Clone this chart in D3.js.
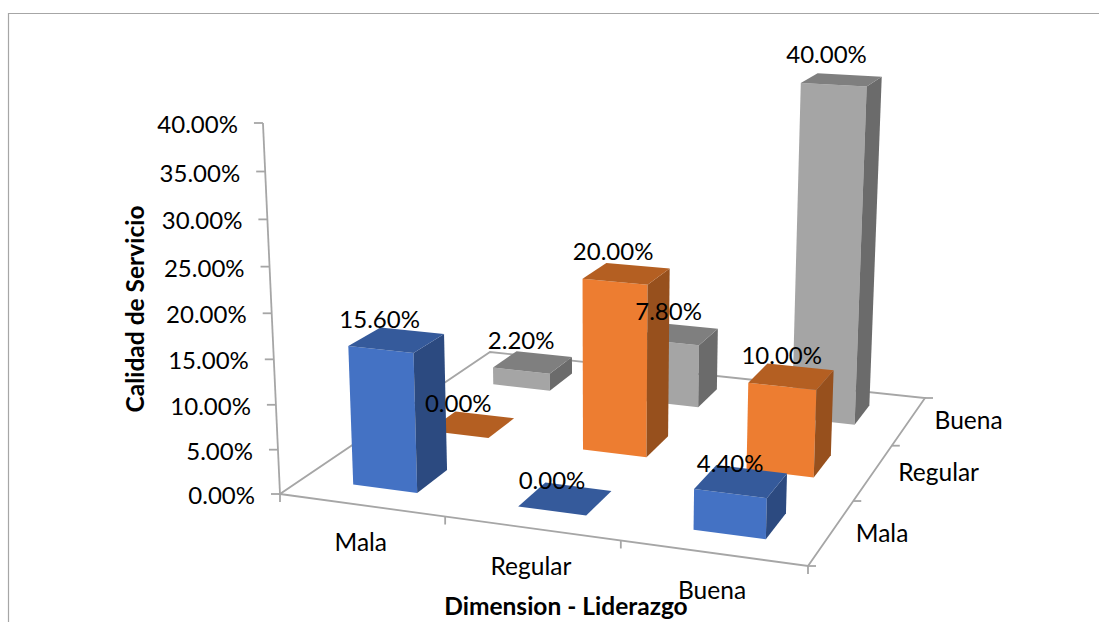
<html>
<head>
    <meta charset="utf-8">
    <script src="https://d3js.org/d3.v7.min.js"></script>
    <style>
        body { margin: 0; background: #fff; }
        text { font-family: Lato, "Noto Sans", sans-serif; fill: #000; }
    </style>
</head>
<body>
    <div id="chart"><svg width="1099" height="622"></svg></div>
    <script>
        var categories = ["Mala", "Regular", "Buena"]
        var seriesNames = ["Mala", "Regular", "Buena"]
        var valuesMala = [15.6, 0, 4.4]
        var valuesRegular = [0, 20, 10]
        var valuesBuena = [2.2, 7.8, 40]
        var seriesValues = [valuesMala, valuesRegular, valuesBuena]
        var yTicks = [0, 5, 10, 15, 20, 25, 30, 35, 40]

        // colours per series: front, side, top
        var faceColors = [
            ["#4472c4", "#2c4a80", "#355a9b"],
            ["#ed7d31", "#97501d", "#b45f22"],
            ["#a5a5a5", "#6b6b6b", "#7f7f7f"]
        ]
        var axisColor = "#a6a6a6"
        var fontSize = 24.5
        var numberSize = 24

        var svg = d3.select("#chart svg")

        // floor corners on screen: front-left, front-right, back-right, back-left
        var floor = [[280, 494], [808, 566], [925, 398], [490, 352]]
        var yAxisTop = [263, 123]
        var verticalVanish = [602, 7500]

        // homography from the unit square to the floor
        var sx = floor[0][0] - floor[1][0] + floor[2][0] - floor[3][0]
        var sy = floor[0][1] - floor[1][1] + floor[2][1] - floor[3][1]
        var dx1 = floor[1][0] - floor[2][0], dx2 = floor[3][0] - floor[2][0]
        var dy1 = floor[1][1] - floor[2][1], dy2 = floor[3][1] - floor[2][1]
        var den = dx1 * dy2 - dx2 * dy1
        var g = (sx * dy2 - dx2 * sy) / den
        var h = (dx1 * sy - sx * dy1) / den
        var a = floor[1][0] - floor[0][0] + g * floor[1][0]
        var b = floor[3][0] - floor[0][0] + h * floor[3][0]
        var d = floor[1][1] - floor[0][1] + g * floor[1][1]
        var e = floor[3][1] - floor[0][1] + h * floor[3][1]
        var k = (yAxisTop[1] - floor[0][1]) / (verticalVanish[1] - yAxisTop[1])

        // u across, v into the depth, t up; all 0..1
        function project(u, v, t) {
            var w = g * u + h * v + 1 + k * t
            return [
                (a * u + b * v + floor[0][0] + k * t * verticalVanish[0]) / w,
                (d * u + e * v + floor[0][1] + k * t * verticalVanish[1]) / w
            ]
        }

        var xScale = d3.scaleBand().domain(categories).range([0.004, 1.001]).padding(0.605).paddingOuter(0.3)
        var zScale = d3.scaleBand().domain(seriesNames).range([0, 1]).padding(0.6).paddingOuter(0.275)
        var yScale = d3.scaleLinear().domain([0, 40]).range([0, 1])
        var fmt = function(v) { return v.toFixed(2) + "%" }
        var line = d3.line()

        // axis lines
        var axes = svg.append("g")
            .attr("fill", "none")
            .attr("stroke", axisColor)
            .attr("stroke-width", 1.8)
        axes.append("path").attr("d", line([project(0, 0, 0), project(1, 0, 0), project(1, 1, 0), project(0, 1, 0)]) + "Z")
        axes.append("path").attr("d", line([project(0, 0, 0), project(0, 0, 1)]))

        // y ticks and labels
        yTicks.forEach(function(t) {
            var p = project(0, 0, yScale(t))
            axes.append("path").attr("d", line([p, [p[0] - 9, p[1]]]))
            svg.append("text")
                .attr("x", p[0] - 25)
                .attr("y", p[1] + 4)
                .attr("text-anchor", "end")
                .attr("dominant-baseline", "middle")
                .attr("font-size", numberSize)
                .text(fmt(t))
        })

        // category ticks along the front edge, series ticks along the right edge
        d3.range(4).forEach(function(i) {
            var p = project(i / 3, 0, 0)
            axes.append("path").attr("d", line([p, [p[0], p[1] + 8]]))
            var q = project(1, i / 3, 0)
            axes.append("path").attr("d", line([q, [q[0] + 8, q[1]]]))
        })

        categories.forEach(function(c) {
            var p = project(xScale(c) + xScale.bandwidth() / 2, 0, 0)
            svg.append("text")
                .attr("x", p[0] - 2)
                .attr("y", p[1] + 40)
                .attr("text-anchor", "middle")
                .attr("dominant-baseline", "middle")
                .attr("font-size", fontSize)
                .text(c)
        })

        seriesNames.forEach(function(s) {
            var p = project(1, zScale(s) + zScale.bandwidth() / 2, 0)
            svg.append("text")
                .attr("x", p[0] + 25)
                .attr("y", p[1] + 3)
                .attr("dominant-baseline", "middle")
                .attr("font-size", fontSize)
                .text(s)
        })

        // bars, back row first so nearer ones cover them
        var bars = svg.append("g")
        d3.range(seriesNames.length - 1, -1, -1).forEach(function(si) {
            categories.forEach(function(c, ci) {
                var val = seriesValues[si][ci]
                var u0 = xScale(c), u1 = u0 + xScale.bandwidth()
                var v0 = zScale(seriesNames[si]), v1 = v0 + zScale.bandwidth()
                var t = yScale(val)
                var col = faceColors[si]
                if (val > 0) {
                    bars.append("path")
                        .attr("d", line([project(u0, v0, 0), project(u1, v0, 0), project(u1, v0, t), project(u0, v0, t)]) + "Z")
                        .attr("fill", col[0])
                    bars.append("path")
                        .attr("d", line([project(u1, v0, 0), project(u1, v1, 0), project(u1, v1, t), project(u1, v0, t)]) + "Z")
                        .attr("fill", col[1])
                }
                bars.append("path")
                    .attr("d", line([project(u0, v0, t), project(u1, v0, t), project(u1, v1, t), project(u0, v1, t)]) + "Z")
                    .attr("fill", col[2])
            })
        })

        // value labels sit above the front edge of each bar top, drifting left on tall bars
        seriesNames.forEach(function(s, si) {
            categories.forEach(function(c, ci) {
                var t = yScale(seriesValues[si][ci])
                var p = project(xScale(c) + xScale.bandwidth() / 2, zScale(s), t)
                svg.append("text")
                    .attr("x", p[0] - 7 * t * t)
                    .attr("y", p[1] - 28)
                    .attr("text-anchor", "middle")
                    .attr("dominant-baseline", "middle")
                    .attr("font-size", numberSize)
                    .text(fmt(seriesValues[si][ci]))
            })
        })

        // axis titles
        svg.append("text")
            .attr("transform", "translate(138,309) rotate(-90)")
            .attr("text-anchor", "middle")
            .attr("dominant-baseline", "middle")
            .attr("font-size", fontSize)
            .attr("font-weight", "bold")
            .text("Calidad de Servicio")
        svg.append("text")
            .attr("x", 566)
            .attr("y", 609)
            .attr("text-anchor", "middle")
            .attr("dominant-baseline", "middle")
            .attr("font-size", fontSize)
            .attr("font-weight", "bold")
            .text("Dimension - Liderazgo")

        // chart frame
        svg.append("path")
            .attr("d", "M8.5,622V13.5H1099")
            .attr("fill", "none")
            .attr("stroke", "#a6a6a6")
            .attr("stroke-width", 1.2)
    </script>
</body>
</html>
